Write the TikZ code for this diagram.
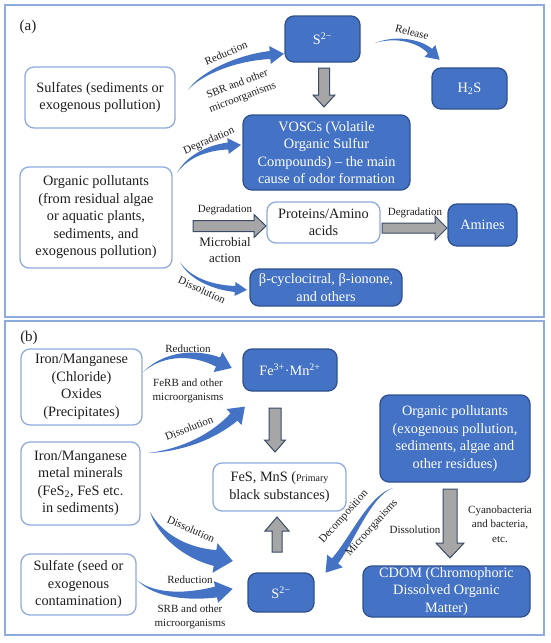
\documentclass[tikz,border=0pt]{standalone}
\usepackage{fontspec}
\setmainfont{LiberationSerif}[Extension=.ttf, UprightFont=*-Regular, BoldFont=*-Bold, ItalicFont=*-Italic, BoldItalicFont=*-BoldItalic]
\usetikzlibrary{calc}
\definecolor{dfill}{HTML}{4472C4}
\definecolor{dbord}{HTML}{2F528F}
\definecolor{lbord}{HTML}{8FAADC}
\definecolor{framec}{HTML}{8FAADC}
\definecolor{gfill}{HTML}{A6A6A6}
\definecolor{gbord}{HTML}{3B4A66}
\definecolor{barc}{HTML}{4472C4}
\definecolor{txt}{HTML}{1E1E1E}
\newcommand{\mainfs}{\fontsize{14.3}{17.5}\selectfont}
\newcommand{\lblfs}{\fontsize{11}{14.5}\selectfont}
% gray block arrow: start, tip, shaft half width, head half width, head length
\newcommand{\grayarr}[5]{%
  \coordinate (ga-h) at ($(#2)!#5!(#1)$);
  \filldraw[garrow] ($(#1)!#3!90:(#2)$) -- ($(ga-h)!#3!90:(#2)$) -- ($(ga-h)!#4!90:(#2)$) -- (#2)
    -- ($(ga-h)!#4!-90:(#2)$) -- ($(ga-h)!#3!-90:(#2)$) -- ($(#1)!#3!-90:(#2)$) -- cycle;}
% tapered curved blue arrow: start, control1, control2, head base, body half width, head half width, head length
\newcommand{\bluearr}[7]{%
  \fill[barrow] (#1) .. controls ($(#2)!0.33*#5!-90:(#3)$) and ($(#3)!0.67*#5!-90:(#4)$) .. ($(#4)!#5!90:(#3)$)
    -- ($(#4)!#6!90:(#3)$) -- ($(#4)!-#7!(#3)$) -- ($(#4)!#6!-90:(#3)$) -- ($(#4)!#5!-90:(#3)$)
    .. controls ($(#3)!0.67*#5!90:(#4)$) and ($(#2)!0.33*#5!90:(#3)$) .. (#1) -- cycle;}
\tikzset{
  lbox/.style={draw=lbord, line width=1.3pt, rounded corners=9pt, fill=white, text=txt, align=center, inner sep=0pt, font=\mainfs},
  dbox/.style={draw=dbord, line width=1.3pt, rounded corners=9pt, fill=dfill, text=white, align=center, inner sep=0pt, font=\mainfs},
  lbl/.style={font=\lblfs, text=txt, align=center, inner sep=0pt},
  garrow/.style={fill=gfill, draw=gbord, line width=1pt, line join=miter},
  barrow/.style={fill=barc},
  panel/.style={draw=framec, line width=1.5pt},
}
\begin{document}
\begin{tikzpicture}[x=1pt, y=-1pt]
\useasboundingbox (0,0) rectangle (550,643);
\fill[white] (0,0) rectangle (550,643);
% panels
\draw[panel] (5,5) rectangle (544,317);
\draw[panel] (5,321) rectangle (544,635);
\node[font=\fontsize{15}{18}\selectfont, text=txt] (pa) at (28,27) {(a)};
\node[font=\fontsize{15}{18}\selectfont, text=txt] (pb) at (29,338) {(b)};

% ---------- panel (a) ----------
\node[lbox, minimum width=150pt, minimum height=61pt] (sulf) at (100,97.5) {Sulfates (sediments or\\exogenous pollution)};
\node[dbox, minimum width=75pt, minimum height=46pt] (s2a) at (322.5,39) {S\textsuperscript{2−}};
\node[dbox, minimum width=75pt, minimum height=41pt] (h2s) at (469.5,88.5) {H\textsubscript{2}S};
\node[dbox, minimum width=167pt, minimum height=75pt] (vosc) at (326.5,152.5) {VOSCs (Volatile\\Organic Sulfur\\Compounds) – the main\\cause of odor formation};
\node[lbox, minimum width=152pt, minimum height=101pt] (orga) at (96,217.5) {Organic pollutants\\(from residual algae\\or aquatic plants,\\sediments, and\\exogenous pollution)};
\node[lbox, minimum width=113pt, minimum height=41pt] (prot) at (323.5,222.5) {Proteins/Amino\\acids};
\node[dbox, minimum width=69pt, minimum height=42pt] (amin) at (482.5,225) {Amines};
\node[dbox, minimum width=152pt, minimum height=37pt] (beta) at (326,287.5) {β-cyclocitral, β-ionone,\\and others};

% blue arrows (a)
\coordinate (r1a) at (188,90);  \coordinate (r1b) at (270,55);
\bluearr{r1a}{200,74}{235,58}{r1b}{4pt}{9pt}{14pt}
\coordinate (rla) at (375,43);  \coordinate (rlb) at (430,51);
\bluearr{rla}{395,36}{418,40}{rlb}{3pt}{8pt}{13pt}
\coordinate (dga) at (177,173); \coordinate (dgb) at (228,146);
\bluearr{dga}{186,158}{205,148}{dgb}{3.5pt}{8pt}{13pt}
\coordinate (dsa) at (180,262); \coordinate (dsb) at (235,289);
\bluearr{dsa}{188,276}{208,287}{dsb}{3pt}{7pt}{12pt}

% gray arrows (a)
\coordinate (g1s) at (324,68);  \coordinate (g1t) at (324,107);
\grayarr{g1s}{g1t}{5.5pt}{11pt}{12pt}
\coordinate (g2s) at (193,226); \coordinate (g2t) at (266,226);
\grayarr{g2s}{g2t}{5.5pt}{11.5pt}{12pt}
\coordinate (g3s) at (382,228); \coordinate (g3t) at (447,228);
\grayarr{g3s}{g3t}{5pt}{12pt}{12pt}

% labels (a)
\node[lbl, rotate=23] (lred1) at (226,53) {Reduction};
\node[lbl, rotate=21] (lsbr) at (240,91) {SBR and other\\microorganisms};
\node[lbl, rotate=-15] (lrel) at (412,32) {Release};
\node[lbl, rotate=23] (ldeg1) at (209,141) {Degradation};
\node[lbl, rotate=-25] (ldis1) at (202,290) {Dissolution};
\node[lbl] (ldeg2) at (225,210) {Degradation};
\node[lbl, font=\fontsize{13}{16}\selectfont] (lmic) at (225,250) {Microbial\\action};
\node[lbl] (ldeg3) at (415,213) {Degradation};

% ---------- panel (b) ----------
\node[lbox, minimum width=121pt, minimum height=76pt] (ironox) at (81.5,387) {Iron/Manganese\\(Chloride)\\Oxides\\(Precipitates)};
\node[dbox, minimum width=94pt, minimum height=42pt] (fe) at (290,370) {Fe\textsuperscript{3+}·Mn\textsuperscript{2+}};
\node[lbox, minimum width=119pt, minimum height=83pt] (ironmin) at (80.5,483.5) {Iron/Manganese\\metal minerals\\(FeS\textsubscript{2}, FeS etc.\\in sediments)};
\node[lbox, minimum width=133pt, minimum height=48pt] (fes) at (279.5,487) {FeS, MnS ({\fontsize{10}{12}\selectfont Primary}\\black substances)};
\node[dbox, minimum width=66pt, minimum height=39pt] (s2b) at (281,592.5) {S\textsuperscript{2−}};
\node[lbox, minimum width=115pt, minimum height=61pt] (sulfb) at (78.5,584.5) {Sulfate (seed or\\exogenous\\contamination)};
\node[dbox, minimum width=150pt, minimum height=87pt] (orgb) at (455,438.5) {Organic pollutants\\(exogenous pollution,\\sediments, algae and\\other residues)};
\node[dbox, minimum width=167pt, minimum height=51pt] (cdom) at (446.5,591.5) {CDOM (Chromophoric\\Dissolved Organic\\Matter)};

% blue arrows (b)
\coordinate (rba) at (143,372); \coordinate (rbb) at (218,362);
\bluearr{rba}{165,352}{195,352}{rbb}{5pt}{11pt}{15pt}
\coordinate (dua) at (148,453); \coordinate (dub) at (234,417);
\bluearr{dua}{185,450}{215,435}{dub}{5pt}{11pt}{15pt}
\coordinate (dla) at (150,512); \coordinate (dlb) at (215,558);
\bluearr{dla}{160,535}{185,553}{dlb}{8pt}{15pt}{18pt}
\coordinate (rca) at (137,580); \coordinate (rcb) at (216,592);
\bluearr{rca}{155,597}{190,597}{rcb}{5.5pt}{11pt}{17pt}
\coordinate (dca) at (393,488); \coordinate (dcb) at (335,561);
\bluearr{dca}{370,495}{352,540}{dcb}{4pt}{10pt}{15pt}

% gray arrows (b)
\coordinate (g4s) at (275,408); \coordinate (g4t) at (275,452);
\grayarr{g4s}{g4t}{6pt}{10.5pt}{12pt}
\coordinate (g5s) at (277,552); \coordinate (g5t) at (277,517);
\grayarr{g5s}{g5t}{5pt}{12pt}{14pt}
\coordinate (g6s) at (450,489); \coordinate (g6t) at (450,558);
\grayarr{g6s}{g6t}{7pt}{14pt}{15pt}

% labels (b)
\node[lbl] (lred2) at (188,349) {Reduction};
\node[lbl] (lferb) at (188,391) {FeRB and other\\microorganisms};
\node[lbl, rotate=22] (ldis2) at (189,428) {Dissolution};
\node[lbl, rotate=-24] (ldis3) at (191,529) {Dissolution};
\node[lbl] (lred3) at (190,580) {Reduction};
\node[lbl] (lsrb) at (190,617) {SRB and other\\microorganisms};
\node[lbl, rotate=48] (ldec) at (344,517) {Decomposition};
\node[lbl, rotate=48] (lmicb) at (372,528) {Microorganisms};
\node[lbl] (ldis4) at (415,530) {Dissolution};
\node[lbl] (lcya) at (500,524) {Cyanobacteria\\and bacteria,\\etc.};
\end{tikzpicture}
\end{document}
